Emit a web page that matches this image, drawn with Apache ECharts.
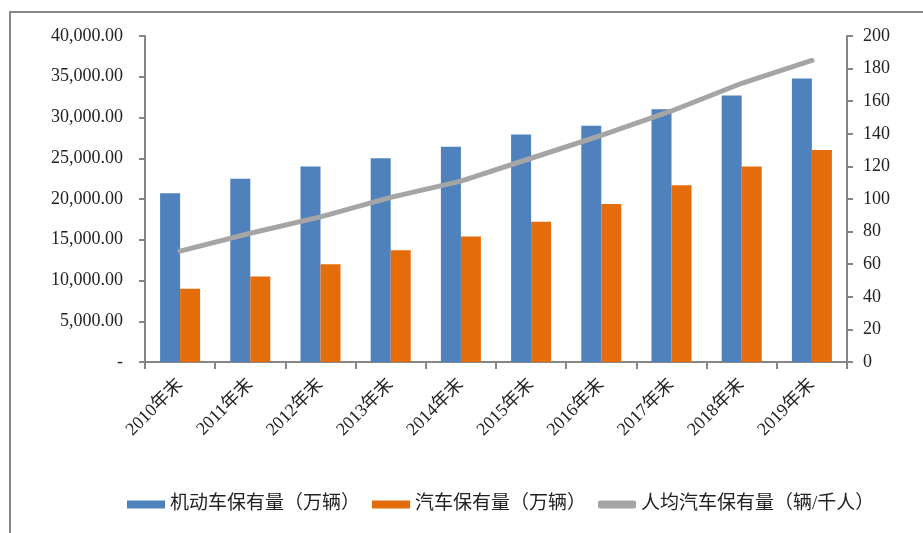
<!DOCTYPE html>
<html>
<head>
<meta charset="utf-8">
<script src="https://cdn.jsdelivr.net/npm/echarts@6/dist/echarts.min.js"></script>
<style>html,body{margin:0;padding:0;background:#fff;}#c{width:923px;height:533px;}</style>
</head>
<body>
<div id="c"></div>
<script>
const categories = ['2010年末','2011年末','2012年末','2013年末','2014年末','2015年末','2016年末','2017年末','2018年末','2019年末'];
const motorVehicles = [20700, 22500, 24000, 25000, 26400, 27900, 29000, 31000, 32700, 34800];
const cars = [9000, 10500, 12000, 13700, 15400, 17200, 19400, 21700, 24000, 26000];
const carsPerThousand = [68, 79, 89, 101, 111, 125, 139, 154, 171, 185];
const seriesNames = ['机动车保有量（万辆）', '汽车保有量（万辆）', '人均汽车保有量（辆/千人）'];

const serif = '"Liberation Serif", "Times New Roman", "Noto Sans CJK SC", serif';
const axisColor = '#868686';
const chart = echarts.init(document.getElementById('c'));
chart.setOption({
  animation: false,
  backgroundColor: '#fff',
  graphic: [{
    type: 'rect', shape: {x: 10, y: 12, width: 1000, height: 600},
    style: {fill: 'none', stroke: '#878787', lineWidth: 2}, silent: true
  }],
  grid: {left: 145, right: 76, top: 36, bottom: 171},
  legend: {
    bottom: 14, left: 122,
    itemWidth: 38, itemHeight: 8, itemGap: 12,
    textStyle: {fontFamily: serif, fontSize: 19, color: '#222'},
    data: [
      {name: seriesNames[0], icon: 'rect'},
      {name: seriesNames[1], icon: 'rect'},
      {name: seriesNames[2], icon: 'roundRect'}
    ]
  },
  xAxis: {
    type: 'category', data: categories,
    axisLine: {lineStyle: {color: axisColor, width: 2}},
    axisTick: {show: true, length: 7, lineStyle: {color: axisColor, width: 2}},
    axisLabel: {rotate: 45, margin: 20, fontFamily: serif, fontSize: 18, color: '#222'}
  },
  yAxis: [{
    type: 'value', min: 0, max: 40000, interval: 5000,
    axisLine: {show: true, lineStyle: {color: axisColor, width: 2}},
    axisTick: {show: true, length: 6, lineStyle: {color: axisColor, width: 2}},
    splitLine: {show: false},
    axisLabel: {margin: 22, fontFamily: serif, fontSize: 18, color: '#222',
      formatter: v => v === 0 ? '-' : v.toLocaleString('en-US', {minimumFractionDigits: 2, maximumFractionDigits: 2})}
  }, {
    type: 'value', min: 0, max: 200, interval: 20, position: 'right',
    axisLine: {show: true, lineStyle: {color: axisColor, width: 2}},
    axisTick: {show: true, length: 6, lineStyle: {color: axisColor, width: 2}},
    splitLine: {show: false},
    axisLabel: {margin: 16, fontFamily: serif, fontSize: 18, color: '#222'}
  }],
  series: [{
    name: seriesNames[0], type: 'bar', data: motorVehicles, yAxisIndex: 0,
    barGap: '0%', barCategoryGap: '43%',
    itemStyle: {color: '#4F81BD'}
  }, {
    name: seriesNames[1], type: 'bar', data: cars, yAxisIndex: 0,
    barGap: '0%', barCategoryGap: '43%',
    itemStyle: {color: '#E46C0A'}
  }, {
    name: seriesNames[2], type: 'line', data: carsPerThousand, yAxisIndex: 1,
    symbol: 'none', lineStyle: {color: '#A5A5A5', width: 5, cap: 'round'},
    itemStyle: {color: '#A5A5A5'}
  }]
});
</script>
</body>
</html>
